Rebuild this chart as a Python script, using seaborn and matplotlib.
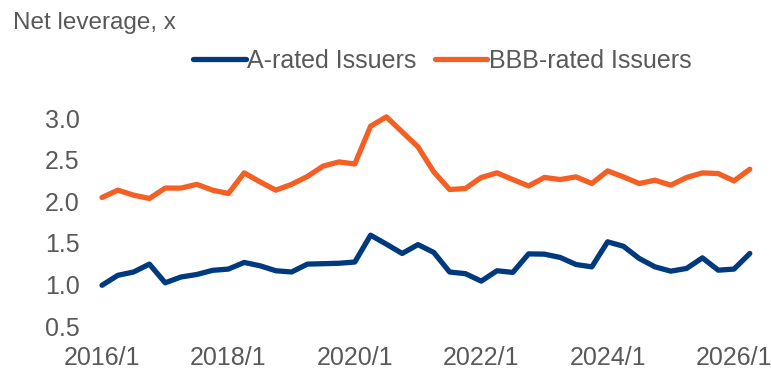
import numpy as np
import pandas as pd
import matplotlib
matplotlib.use("Agg")
import matplotlib.pyplot as plt
import seaborn as sns

# Quarterly net leverage, 2016 Q1 through 2026 Q2
quarters = [f"{y}/Q{q}" for y in range(2016, 2027) for q in range(1, 5)][:42]

a_rated = [0.99, 1.11, 1.15, 1.245, 1.02, 1.09, 1.12, 1.17, 1.185, 1.265,
           1.225, 1.165, 1.15, 1.245, 1.25, 1.255, 1.27, 1.593, 1.485, 1.373,
           1.48, 1.385, 1.15, 1.13, 1.04, 1.165, 1.145, 1.368, 1.365, 1.325,
           1.24, 1.212, 1.513, 1.46, 1.313, 1.212, 1.16, 1.193, 1.32, 1.172,
           1.185, 1.373]

bbb_rated = [2.047, 2.135, 2.075, 2.035, 2.16, 2.16, 2.205, 2.135, 2.095, 2.343,
             2.235, 2.135, 2.205, 2.30, 2.425, 2.475, 2.45, 2.905, 3.017, 2.836,
             2.656, 2.355, 2.143, 2.155, 2.288, 2.343, 2.263, 2.185, 2.288, 2.263,
             2.295, 2.215, 2.367, 2.295, 2.215, 2.255, 2.195, 2.288, 2.343, 2.335,
             2.247, 2.387]

series_names = ["A-rated Issuers", "BBB-rated Issuers"]
tick_labels = ["2016/1", "2018/1", "2020/1", "2022/1", "2024/1", "2026/1"]
y_ticks = [0.5, 1.0, 1.5, 2.0, 2.5, 3.0]

colors = {"A-rated Issuers": "#003A7E", "BBB-rated Issuers": "#F46024"}
text_color = "#595959"

df = pd.DataFrame({
    "idx": list(range(len(quarters))) * 2,
    "quarter": quarters * 2,
    "leverage": a_rated + bbb_rated,
    "series": [series_names[0]] * len(a_rated) + [series_names[1]] * len(bbb_rated),
})

sns.set_theme(style="white")
plt.rcParams["font.family"] = ["Liberation Sans", "DejaVu Sans"]

W, H = 771, 369
fig = plt.figure(figsize=(W / 100, H / 100), dpi=100)
left, right = 102 / W, 749.8 / W
top, bottom = 1 - 118.3 / H, 1 - 326 / H
ax = fig.add_axes([left, bottom, right - left, top - bottom])

sns.lineplot(data=df, x="idx", y="leverage", hue="series", palette=colors,
             linewidth=3.8, ax=ax, legend=False)
for ln in ax.get_lines():
    ln.set_clip_on(False)
    ln.set_solid_joinstyle("round")
    ln.set_solid_capstyle("round")

ax.set_xlim(0, len(quarters) - 1)
ax.set_ylim(0.5, 3.0)
ax.set_yticks(y_ticks)
ax.set_yticklabels([f"{v:.1f}" for v in y_ticks])
ax.set_xticks([i * 8 for i in range(len(tick_labels))])
ax.set_xticklabels(tick_labels)
ax.set_xlabel("")
ax.set_ylabel("")
ax.grid(False)
for s in ax.spines.values():
    s.set_visible(False)
ax.tick_params(axis="y", length=0, pad=16, labelsize=18, labelcolor=text_color)
ax.tick_params(axis="x", length=0, pad=14.5, labelsize=18, labelcolor=text_color)

fig.text(13 / W, 1 - 23 / H, "Net leverage, x", fontsize=17.5, color=text_color,
         ha="left", va="center")

handles = [plt.Line2D([], [], color=colors[n], linewidth=3.8, solid_capstyle="round")
           for n in series_names]
leg = fig.legend(handles, series_names, loc="center left",
                 bbox_to_anchor=(193 / W, 1 - 61 / H), ncol=2, frameon=False,
                 fontsize=18, handlelength=2.1, handletextpad=0.05,
                 columnspacing=0.75, borderpad=0, borderaxespad=0)
for t in leg.get_texts():
    t.set_color(text_color)

fig.savefig("out.png", dpi=100)
